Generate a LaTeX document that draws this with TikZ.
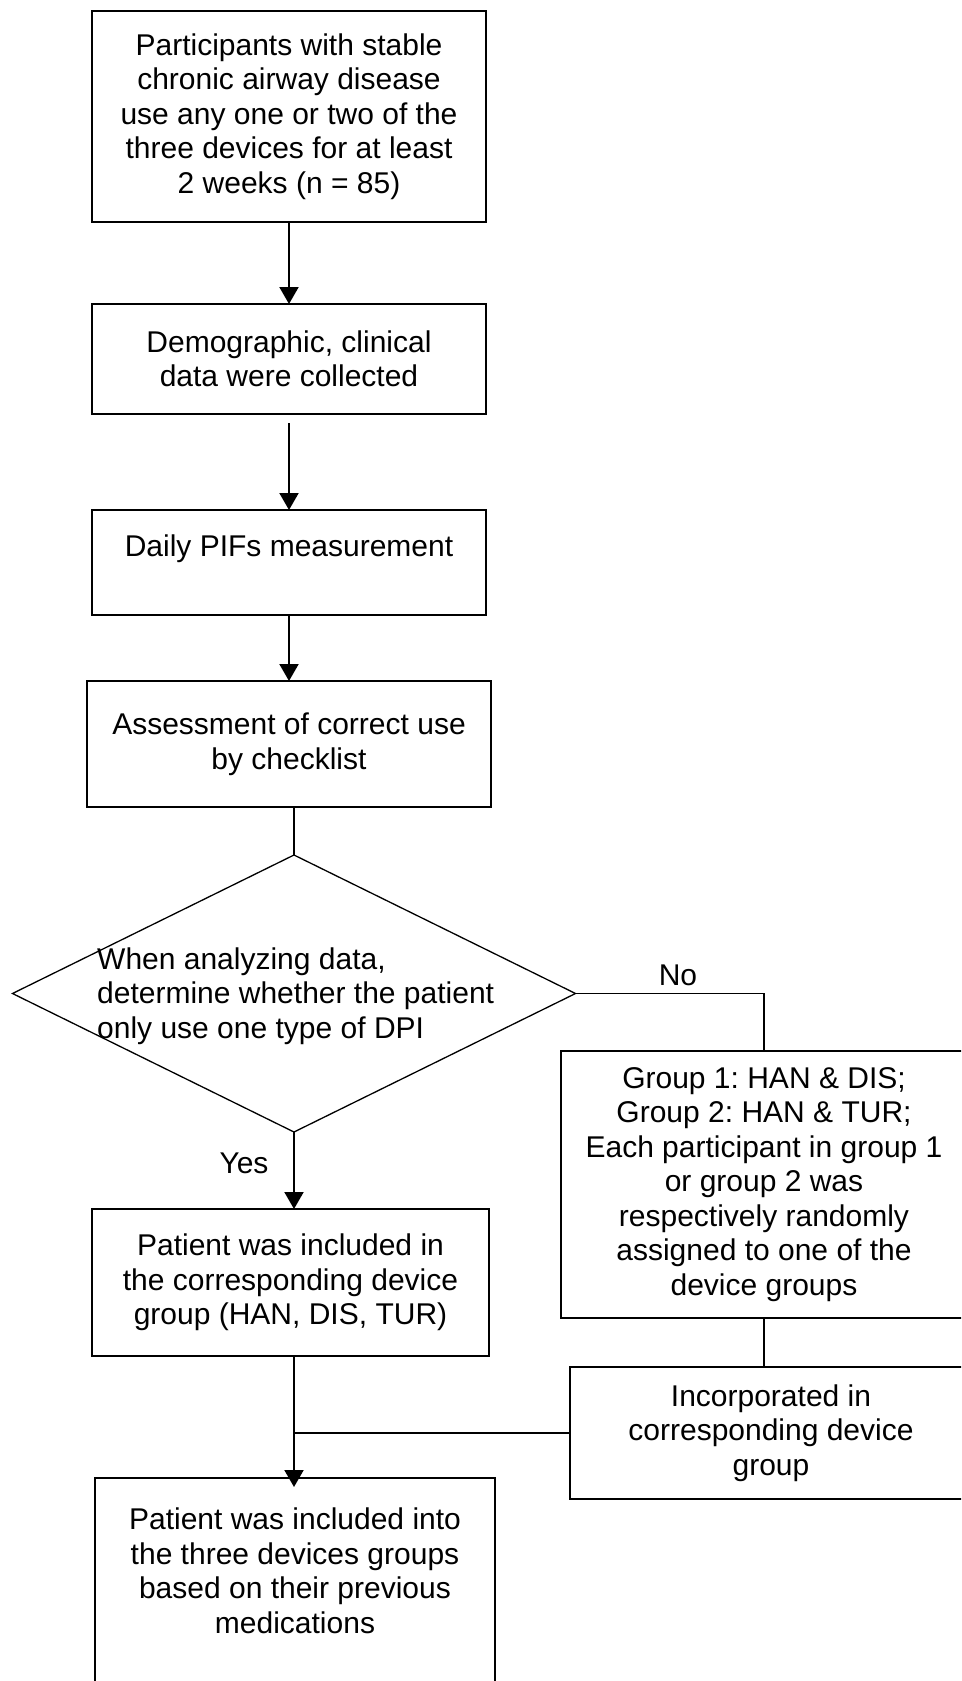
\documentclass[tikz,border=0pt]{standalone}
\usepackage{fontspec}
\setmainfont{Liberation Sans}
\usetikzlibrary{arrows.meta, positioning, shapes.geometric}

\begin{document}
\begin{tikzpicture}[
    x = 1pt, y = 1pt,
    punkt/.style = {rectangle, draw, line width=2pt, align=center, inner sep=0pt, outer sep=0pt},
    ruter/.style = {diamond, draw, line width=1.3pt, inner sep=0pt, outer sep=0pt},
    pil/.style = {black, line width=2pt, -{Triangle[length=17pt, width=19pt]}},
    linje/.style = {black, line width=1.3pt},
    font=\fontsize{30}{34.5}\selectfont\frenchspacing
    ]
  \useasboundingbox (0,0) rectangle (961,-1681);
  \clip (0,0) rectangle (961,-1681);

  \node[punkt, minimum width=394pt, minimum height=211pt] (start) at (289,-116.5)
    {Participants with stable\\chronic airway disease\\use any one or two of the\\three devices for at least\\2 weeks (n = 85)};
  \node[punkt, minimum width=394pt, minimum height=110pt] (collect) [below=82pt of start]
    {Demographic, clinical\\data were collected};
  \node[punkt, minimum width=394pt, minimum height=105pt] (pifs) [below=96pt of collect]
    {Daily PIFs measurement\\ ~};
  \node[punkt, minimum width=404pt, minimum height=126pt] (check) [below=66pt of pifs]
    {Assessment of correct use\\by checklist};
  \node[ruter, minimum width=563pt, minimum height=277pt] (decide) [below=48pt of check, xshift=5pt] {};
  \node[align=left, anchor=west, inner sep=0pt] (question) at (97,-996)
    {When analyzing data,\\determine whether the patient\\only use one type of DPI};
  \node[] (no) at (678,-975) {No};
  \node[] (yes) at (244,-1163) {Yes};

  \node[punkt, minimum width=406pt, minimum height=267pt] (groups) at (764,-1184.5)
    {Group 1: HAN \& DIS;\\Group 2: HAN \& TUR;\\Each participant in group 1\\or group 2 was\\respectively randomly\\assigned to one of the\\device groups};
  \node[punkt, minimum width=397pt, minimum height=147pt] (include) [below=77pt of decide, xshift=-3.5pt]
    {Patient was included in\\the corresponding device\\group (HAN, DIS, TUR)};
  \node[punkt, minimum width=402pt, minimum height=132pt] (incorp) at (771,-1433)
    {Incorporated in\\corresponding device\\group};
  \node[punkt, minimum width=400pt, minimum height=254pt] (result) [below=122pt of include, xshift=4.5pt]
    {Patient was included into\\the three devices groups\\based on their previous\\medications\\ ~\\ ~};

  \draw[pil] (start) -- (collect);
  \draw[pil, shorten <=9pt] (collect) -- (pifs);
  \draw[pil] (pifs) -- (check);
  \draw[linje] (check.south -| decide.north) -- (decide.north);
  \draw[pil] (decide.south) -- (decide.south |- include.north);
  \draw[linje] (decide.east) -- (decide.east -| groups.north) -- (groups.north);
  \draw[linje] (groups.south) -- (groups.south |- incorp.north);
  \draw[linje, line width=2pt] (incorp.west) -- (incorp.west -| decide.south);
  \draw[pil, shorten >=-9pt] (include.south -| decide.south) -- (decide.south |- result.north);
\end{tikzpicture}
\end{document}
